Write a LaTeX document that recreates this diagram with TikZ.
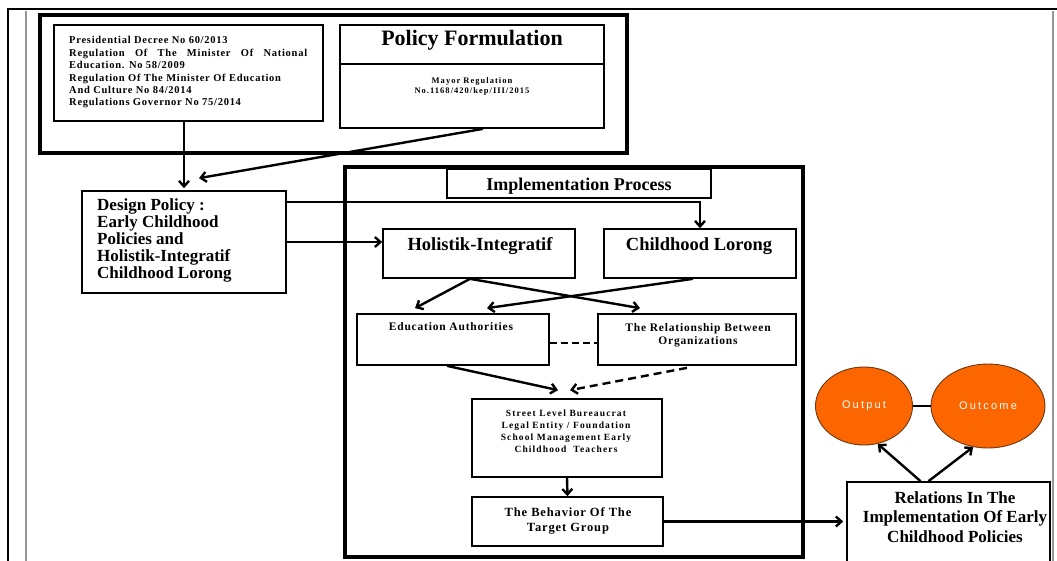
\documentclass[tikz,border=0pt]{standalone}
\usepackage{fontspec}
\setmainfont{Liberation Serif}
\newfontfamily\lsserif[LetterSpace=7]{Liberation Serif}
\newfontfamily\lsserifw[LetterSpace=12]{Liberation Serif}
\newfontfamily\lssans[LetterSpace=20]{Liberation Sans}
\usetikzlibrary{arrows.meta,calc,fit,shapes.geometric,shadows}
\definecolor{orangeF}{RGB}{252,102,0}
\definecolor{orangeD}{RGB}{110,55,20}
\definecolor{frameG}{RGB}{150,150,150}
\tikzset{
  tbox/.style={draw, line width=1.7pt, fill=white, inner sep=0pt,
    drop shadow={shadow xshift=1.4pt, shadow yshift=-1.4pt, opacity=0.35, fill=black}},
  bigbox/.style={draw, line width=4.4pt, inner sep=0pt},
  txt/.style={inner sep=0pt, align=center},
  conn/.style={line width=2.4pt, -{Straight Barb[length=5.5pt,width=10pt]}},
  dconn/.style={conn, dash pattern=on 8pt off 5pt},
  dline/.style={line width=2.4pt, dash pattern=on 7pt off 4pt},
  oval/.style={ellipse, draw=orangeD, line width=0.9pt, fill=orangeF, inner sep=0pt,
    text=white, font=\lssans\fontsize{11}{13}\selectfont},
}
\begin{document}
\begin{tikzpicture}[x=1pt,y=-1pt]
\useasboundingbox (0,0) rectangle (1057,560);
% page frame
\draw[black, line width=1.3pt] (8,562) -- (8,9) -- (1058,9);
\draw[frameG, line width=2.5pt] (26,11) -- (26,562);
\draw[frameG, line width=2.5pt] (1053,11) -- (1053,562);

% policy formulation group
\node[bigbox, fit={(40,15) (627,153)}] (polgrp) {};
\node[tbox, fit={(54,25) (323,121)}] (regs) {};
\node[txt, anchor=north west, align=left, font=\lsserif\bfseries\fontsize{10.5}{11.8}\selectfont] (regsT) at (69,36)
 {Presidential Decree No 60/2013\\[1pt]
  \makebox[238pt][s]{Regulation Of The Minister Of National}\\
  Education. No 58/2009\\[2pt]
  Regulation Of The Minister Of Education\\
  And Culture No 84/2014\\
  Regulations Governor No 75/2014};
\node[tbox, fit={(340,25) (604,128)}] (pol) {};
\draw[line width=1.7pt] (pol.west |- 0,64) -- (pol.east |- 0,64);
\node[txt, anchor=north, font=\bfseries\fontsize{22}{24}\selectfont] (polT) at (472,30.5) {Policy Formulation};
\node[txt, anchor=north, font=\lsserifw\bfseries\fontsize{8.5}{10}\selectfont] (mayT) at (472,77) {Mayor Regulation\\No.1168/420/kep/III/2015};

% design policy
\node[tbox, fit={(82,191) (286,293)}] (design) {};
\node[txt, anchor=north west, align=left, font=\bfseries\fontsize{17}{17}\selectfont] (designT) at (97,198.5)
 {Design Policy :\\Early Childhood\\Policies and\\Holistik-Integratif\\Childhood Lorong};

% implementation process
\node[bigbox, fit={(345,167) (803,557)}] (impl) {};
\node[tbox, fit={(447,169) (711,198)}] (implHead) {};
\node[txt, anchor=north, font=\bfseries\fontsize{18}{20}\selectfont] (implT) at (579,177.5) {Implementation Process};

\node[tbox, fit={(383,229) (575,278)}] (holi) {};
\node[txt, anchor=north, font=\bfseries\fontsize{18.5}{20}\selectfont] (holiT) at (480,237) {Holistik-Integratif};
\node[tbox, fit={(604,229) (796,278)}] (child) {};
\node[txt, anchor=north, font=\bfseries\fontsize{18.5}{20}\selectfont] (childT) at (699,237) {Childhood Lorong};

\node[tbox, fit={(357,314) (549,365)}] (ed) {};
\node[txt, anchor=north, font=\lsserif\bfseries\fontsize{11.5}{13}\selectfont] (edT) at (451,322) {Education Authorities};
\node[tbox, fit={(598,314) (796,365)}] (rel) {};
\node[txt, anchor=north, font=\lsserif\bfseries\fontsize{11.5}{13.5}\selectfont] (relT) at (698,323) {The Relationship Between\\Organizations};

\node[tbox, fit={(472,399) (662,477)}] (street) {};
\node[txt, anchor=north, font=\lsserifw\bfseries\fontsize{9.5}{12}\selectfont] (streetT) at (566,410)
 {Street Level Bureaucrat\\Legal Entity / Foundation\\School Management Early\\Childhood \ Teachers};
\node[tbox, fit={(472,497) (663,546)}] (beh) {};
\node[txt, anchor=north, font=\lsserif\bfseries\fontsize{12.5}{15.5}\selectfont] (behT) at (568,507) {The Behavior Of The\\Target Group};

% outcomes
\node[oval, minimum width=97pt, minimum height=78pt] (out) at (864,406) {Output};
\node[oval, minimum width=114pt, minimum height=84pt] (oc) at (988,406) {Outcome};
\node[tbox, fit={(847,482) (1050,570)}] (relb) {};
\node[txt, anchor=north, font=\bfseries\fontsize{17}{19.5}\selectfont] (relbT) at (955,491)
 {Relations In The\\Implementation Of Early\\Childhood Policies};

% connectors
\draw[conn] (regs.south -| design.north) -- ($(design.north)+(0,-2)$);
\draw[conn] ($(pol.south)+(11,0)$) -- ($(design.north)+(15,-12)$);
\draw[conn] ($(design.north east)+(0,12)$) -| (child.north);
\draw[conn] (design.east) -- (design.east -| holi.west);
\draw[conn] ($(holi.south)+(-9,0)$) -- ($(ed.north)+(-38,-5)$);
\draw[conn] ($(holi.south)+(-9,0)$) -- ($(rel.north)+(-57,-5)$);
\draw[conn] ($(child.south)+(-7,0)$) -- ($(ed.north)+(34,-5)$);
\draw[dline] ($(ed.east)+(0,3.5)$) -- ($(rel.west)+(0,3.5)$);
\draw[conn] ($(ed.south)+(-6,0)$) -- ($(street.north)+(-9,-8)$);
\draw[dconn] ($(rel.south)+(-10,2)$) -- ($(street.north)+(3,-8)$);
\draw[conn] (street.south) -- (beh.north);
\draw[conn] (beh.east) -- ($(beh.east -| relb.west)+(-3,0)$);
\draw[line width=1.4pt] (out.east) -- (oc.west);
\draw[conn] ($(relb.north)+(-28,0)$) -- (out.-70);
\draw[conn] ($(relb.north)+(-20,0)$) -- (oc.-110);
\end{tikzpicture}
\end{document}
